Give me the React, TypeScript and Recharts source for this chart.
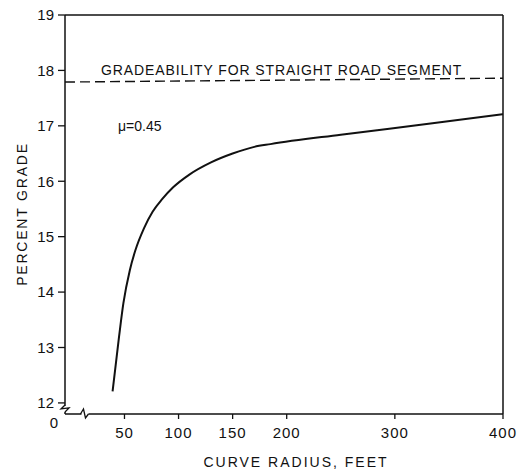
import React from 'react';
import { LineChart, Line, XAxis, YAxis, ReferenceLine } from 'recharts';

// Curve: percent grade vs. curve radius (mu = 0.45)
const radius = [39, 45, 49, 55, 60, 68, 76, 85, 95, 110, 130, 150, 170, 185, 250, 333, 400];
const grade = [12.21, 13.2, 13.8, 14.4, 14.75, 15.15, 15.45, 15.68, 15.89, 16.12, 16.34, 16.5, 16.62, 16.67, 16.84, 17.04, 17.21];

// Gradeability for straight road segment (dashed)
const straightX = [-5, 400];
const straightY = [17.79, 17.86];

const xTicks = [50, 100, 150, 200, 300, 400];
const yTicks = [12, 13, 14, 15, 16, 17, 18, 19];

const curveData = radius.map((r, i) => ({ x: r, y: grade[i] }));
const straightData = straightX.map((r, i) => ({ x: r, y: straightY[i] }));

const FONT = 'Liberation Sans, Arial, sans-serif';

const XTick = (props: any) => {
  const { x, y, payload } = props;
  return (
    <g>
      <text x={x} y={y} dy="0.71em" textAnchor="middle" fontSize={15} fontFamily={FONT} fill="#111" letterSpacing={1}>
        {payload.value}
      </text>
      {payload.value === 50 && (
        <g>
          <rect x={x - 43} y={y - 17} width={7} height={8} fill="#fff" />
          <path d={`M${x - 44},${y - 13} L${x - 41},${y - 18} L${x - 39},${y - 9} L${x - 36},${y - 13}`} stroke="#111" strokeWidth={1.3} fill="none" />
        </g>
      )}
    </g>
  );
};

const YTick = (props: any) => {
  const { x, y, payload } = props;
  return (
    <g>
      <text x={x} y={y} dy="0.36em" textAnchor="end" fontSize={15} fontFamily={FONT} fill="#111">
        {payload.value}
      </text>
      {payload.value === 12 && (
        <g>
          <rect x={x + 7} y={y + 3} width={8} height={6} fill="#fff" />
          <path d={`M${x + 11},${y + 2} L${x + 7},${y + 6} L${x + 15},${y + 5} L${x + 11},${y + 9}`} stroke="#111" strokeWidth={1.3} fill="none" />
          <text x={x + 4} y={y + 20} dy="0.36em" textAnchor="end" fontSize={15} fontFamily={FONT} fill="#111">0</text>
        </g>
      )}
    </g>
  );
};

export default function App() {
  return (
    <div style={{ position: 'absolute', left: 0, top: 0, width: 519, height: 470, background: '#fff' }}>
      <LineChart width={519} height={470} margin={{ top: 15, right: 16, bottom: 0, left: 0 }}>
        <XAxis
          type="number"
          dataKey="x"
          domain={[-5, 400]}
          ticks={xTicks}
          allowDataOverflow
          height={56}
          tickSize={5}
          tickMargin={8}
          tick={<XTick />}
          axisLine={{ stroke: '#111', strokeWidth: 1.5 }}
          tickLine={{ stroke: '#111', strokeWidth: 1.3 }}
        />
        <YAxis
          type="number"
          dataKey="y"
          domain={[11.8, 19]}
          ticks={yTicks}
          allowDataOverflow
          width={65}
          tickSize={7}
          tickMargin={4}
          tick={<YTick />}
          axisLine={{ stroke: '#111', strokeWidth: 1.5 }}
          tickLine={{ stroke: '#111', strokeWidth: 1.3 }}
        />
        <ReferenceLine y={19} stroke="#111" strokeWidth={1.5} />
        <ReferenceLine x={400} stroke="#111" strokeWidth={1.5} />
        <Line
          data={straightData}
          dataKey="y"
          type="linear"
          stroke="#111"
          strokeWidth={1.4}
          strokeDasharray="10 5"
          dot={false}
          isAnimationActive={false}
        />
        <Line
          data={curveData}
          dataKey="y"
          type="monotone"
          stroke="#111"
          strokeWidth={2}
          dot={false}
          isAnimationActive={false}
        />
        <text x={101} y={70} dy="0.36em" fontSize={14} fontFamily={FONT} fill="#111" letterSpacing={0.9}>
          GRADEABILITY FOR STRAIGHT ROAD SEGMENT
        </text>
        <text x={118} y={126} dy="0.36em" fontSize={14} fontFamily={FONT} fill="#111">
          μ=0.45
        </text>
        <text
          x={22}
          y={214}
          dy="0.36em"
          textAnchor="middle"
          transform="rotate(-90 22 214)"
          fontSize={14}
          fontFamily={FONT}
          fill="#111"
          letterSpacing={1.8}
        >
          PERCENT GRADE
        </text>
        <text x={296} y={462} dy="0.36em" textAnchor="middle" fontSize={14} fontFamily={FONT} fill="#111" letterSpacing={2}>
          CURVE RADIUS, FEET
        </text>
      </LineChart>
    </div>
  );
}
